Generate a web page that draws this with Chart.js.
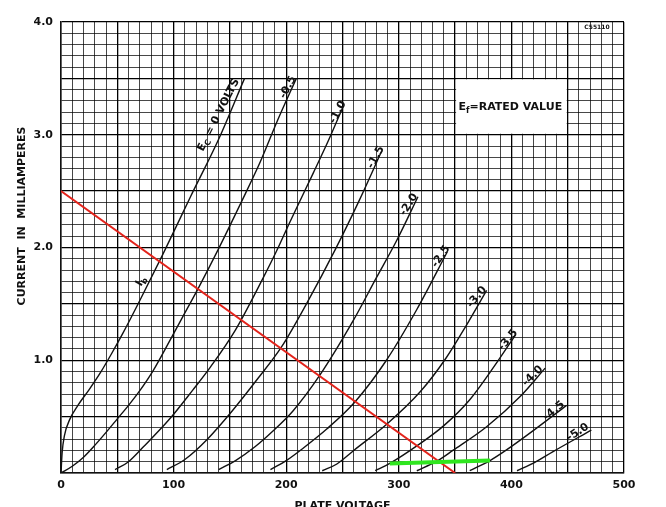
<!DOCTYPE html>
<html>
<head>
<meta charset="utf-8">
<title>Plate characteristics</title>
<script src="https://cdn.jsdelivr.net/npm/chart.js@4.4.1/dist/chart.umd.min.js"></script>
<style>
  html, body { margin: 0; padding: 0; background: #fff; }
  canvas { display: block; }
</style>
</head>
<body>
<canvas id="plate" width="666" height="507"></canvas>
<script>
// grid bias of each curve (volts)
var biasLabels = ['0', '-0.5', '-1.0', '-1.5', '-2.0', '-2.5', '-3.0', '-3.5', '-4.0', '-4.5', '-5.0'];

// plate voltage (V) and plate current (mA)
var plateVolts = [
  [0, 1, 3, 8, 15, 25, 35, 45, 55, 70, 90, 115, 140, 163],
  [0, 10, 20, 30, 40, 50, 60, 70, 82, 97, 110, 122, 140, 160, 177, 192, 209],
  [48, 60, 73, 97, 117, 132, 155, 180, 191, 203, 224, 238, 251],
  [94, 110, 130, 152, 175, 196, 218, 244, 265, 285],
  [140, 155, 172, 188, 206, 230, 260, 280, 298, 317],
  [186, 200, 215, 236, 261, 289, 316, 343],
  [232, 245, 260, 289, 319, 342, 360, 378],
  [279, 292, 316, 340, 363, 385, 404],
  [316, 333, 348, 378, 408, 430],
  [363, 381, 395, 420, 449],
  [405, 420, 437, 471]
];
var plateMa = [
  [0, 0.18, 0.33, 0.48, 0.6, 0.74, 0.89, 1.06, 1.24, 1.53, 1.93, 2.45, 2.96, 3.5],
  [0, 0.06, 0.14, 0.245, 0.36, 0.48, 0.6, 0.73, 0.91, 1.18, 1.42, 1.64, 1.99, 2.4, 2.76, 3.12, 3.5],
  [0.03, 0.1, 0.23, 0.485, 0.735, 0.93, 1.27, 1.74, 1.96, 2.22, 2.66, 2.96, 3.26],
  [0.03, 0.12, 0.3, 0.55, 0.84, 1.12, 1.5, 1.99, 2.42, 2.86],
  [0.03, 0.11, 0.23, 0.37, 0.55, 0.87, 1.36, 1.73, 2.06, 2.45],
  [0.03, 0.11, 0.22, 0.39, 0.63, 1.0, 1.45, 1.96],
  [0.02, 0.08, 0.2, 0.43, 0.72, 1.02, 1.31, 1.62],
  [0.02, 0.085, 0.24, 0.42, 0.65, 0.95, 1.23],
  [0.02, 0.1, 0.2, 0.41, 0.68, 0.93],
  [0.02, 0.11, 0.2, 0.38, 0.6],
  [0.02, 0.09, 0.19, 0.38]
];

// red load line and green swing marker
var loadVolts = [0, 350];
var loadMa = [2.5, 0];
var swingVolts = [292, 381];
var swingMa = [0.085, 0.11];

// labelled ticks
var voltTicks = [0, 100, 200, 300, 400, 500];
var maTicks = [1.0, 2.0, 3.0, 4.0];

var FONT = '"DejaVu Sans", "Liberation Sans", sans-serif';

function pts(xs, ys) {
  return xs.map(function(v, i) { return {x: v, y: ys[i]}; });
}

function isMultiple(v, step) {
  return Math.abs(v / step - Math.round(v / step)) < 1e-6;
}

var datasets = plateVolts.map(function(xs, i) {
  return {
    label: 'Ec = ' + biasLabels[i],
    data: pts(xs, plateMa[i]),
    showLine: true,
    borderColor: '#111',
    borderWidth: 1.4,
    pointRadius: 0,
    cubicInterpolationMode: 'monotone',
    order: 2
  };
});
datasets.push({
  label: 'load line',
  data: pts(loadVolts, loadMa),
  showLine: true,
  borderColor: '#e3231b',
  borderWidth: 2,
  pointRadius: 0,
  order: 1
});
datasets.push({
  label: 'swing',
  data: pts(swingVolts, swingMa),
  showLine: true,
  borderColor: '#2fe61f',
  borderWidth: 4,
  pointRadius: 0,
  order: 0
});

// text with subscripts: parts = [[text, isSub], ...]
function drawParts(c, parts, size, align) {
  var sub = Math.round(size * 0.72);
  var w = 0;
  parts.forEach(function(p) {
    c.font = 'bold ' + (p[1] ? sub : size) + 'px ' + FONT;
    w += c.measureText(p[0]).width;
  });
  var x = align === 'left' ? 0 : -w / 2;
  parts.forEach(function(p) {
    c.font = 'bold ' + (p[1] ? sub : size) + 'px ' + FONT;
    c.fillText(p[0], x, p[1] ? size * 0.3 : 0);
    x += c.measureText(p[0]).width;
  });
}

var curveNotes = [
  {at: [140, 3.175], rot: -63, parts: [['E'], ['C', 1], [' = 0 VOLTS']]},
  {at: [201.6, 3.42], rot: -62, parts: [['-0.5']]},
  {at: [246, 3.2], rot: -62, parts: [['-1.0']]},
  {at: [279.7, 2.8], rot: -60, parts: [['-1.5']]},
  {at: [309, 2.38], rot: -57, parts: [['-2.0']]},
  {at: [337.5, 1.92], rot: -55, parts: [['-2.5']]},
  {at: [369.4, 1.56], rot: -50, parts: [['-3.0']]},
  {at: [397, 1.18], rot: -50, parts: [['-3.5']]},
  {at: [419, 0.86], rot: -45, parts: [['-4.0']]},
  {at: [437.8, 0.55], rot: -40, parts: [['-4.5']]},
  {at: [459, 0.36], rot: -33, parts: [['-5.0']]},
  {at: [71, 1.7], rot: -60, parts: [['I'], ['b', 1]]}
];

var notes = {
  id: 'notes',
  beforeDatasetsDraw: function(chart) {
    var c = chart.ctx, sx = chart.scales.x, sy = chart.scales.y;
    // blank panel for the heater note
    var l = sx.getPixelForValue(350), r = sx.getPixelForValue(450);
    var t = sy.getPixelForValue(3.5), b = sy.getPixelForValue(3.0);
    c.save();
    c.fillStyle = '#fff';
    c.fillRect(l + 1, t + 1, r - l - 2, b - t - 2);
    c.restore();
  },
  afterDatasetsDraw: function(chart) {
    var c = chart.ctx, sx = chart.scales.x, sy = chart.scales.y;
    c.save();
    c.fillStyle = '#111';
    c.textBaseline = 'middle';

    curveNotes.forEach(function(n) {
      c.save();
      c.translate(sx.getPixelForValue(n.at[0]), sy.getPixelForValue(n.at[1]));
      c.rotate(n.rot * Math.PI / 180);
      drawParts(c, n.parts, 11, 'center');
      c.restore();
    });

    c.save();
    c.translate(sx.getPixelForValue(353), sy.getPixelForValue(3.245));
    drawParts(c, [['E'], ['f', 1], ['=RATED VALUE']], 11, 'left');
    c.restore();

    c.font = 'bold 6px ' + FONT;
    c.textAlign = 'center';
    c.fillText('C55110', sx.getPixelForValue(476), sy.getPixelForValue(3.955));

    // y axis title sits a little above centre in the original
    c.save();
    c.translate(22, 216);
    c.rotate(-Math.PI / 2);
    c.font = 'bold 11px ' + FONT;
    c.textAlign = 'center';
    c.fillText('CURRENT  IN  MILLIAMPERES', 0, 0);
    c.restore();

    c.restore();
  }
};

var ctx = document.getElementById('plate').getContext('2d');
var chart = new Chart(ctx, {
  type: 'scatter',
  data: { datasets: datasets },
  plugins: [notes],
  options: {
    responsive: false,
    animation: false,
    layout: { padding: { left: 0, top: 22, right: 42, bottom: 0 } },
    plugins: { legend: { display: false }, tooltip: { enabled: false } },
    scales: {
      x: {
        type: 'linear',
        min: 0,
        max: 500,
        afterFit: function(s) { s.height = 34; },
        ticks: {
          stepSize: 10,
          autoSkip: false,
          maxRotation: 0,
          padding: 6,
          color: '#111',
          font: { family: FONT, size: 11, weight: 'bold' },
          callback: function(v) { return voltTicks.indexOf(Math.round(v)) >= 0 && isMultiple(v, 100) ? String(Math.round(v)) : ''; }
        },
        grid: {
          drawTicks: false,
          color: function(c) { return isMultiple(c.tick.value, 50) ? '#000' : 'rgba(0,0,0,0.72)'; },
          lineWidth: function(c) { return isMultiple(c.tick.value, 50) ? 1.3 : 1; }
        },
        border: { display: true, color: '#111', width: 1.5 },
        title: {
          display: true,
          text: 'PLATE VOLTAGE',
          color: '#111',
          font: { family: FONT, size: 11, weight: 'bold', lineHeight: 1 },
          padding: { top: 0, bottom: -5 }
        }
      },
      y: {
        type: 'linear',
        min: 0,
        max: 4,
        afterFit: function(s) { s.width = 61; },
        ticks: {
          stepSize: 0.1,
          autoSkip: false,
          padding: 8,
          color: '#111',
          font: { family: FONT, size: 11, weight: 'bold' },
          callback: function(v) {
            var hit = maTicks.some(function(t) { return Math.abs(t - v) < 1e-6; });
            return hit ? v.toFixed(1) : '';
          }
        },
        grid: {
          drawTicks: false,
          color: function(c) { return isMultiple(c.tick.value, 0.5) ? '#000' : 'rgba(0,0,0,0.72)'; },
          lineWidth: function(c) { return isMultiple(c.tick.value, 0.5) ? 1.3 : 1; }
        },
        border: { display: true, color: '#111', width: 1.5 }
      }
    }
  }
});
</script>
</body>
</html>
